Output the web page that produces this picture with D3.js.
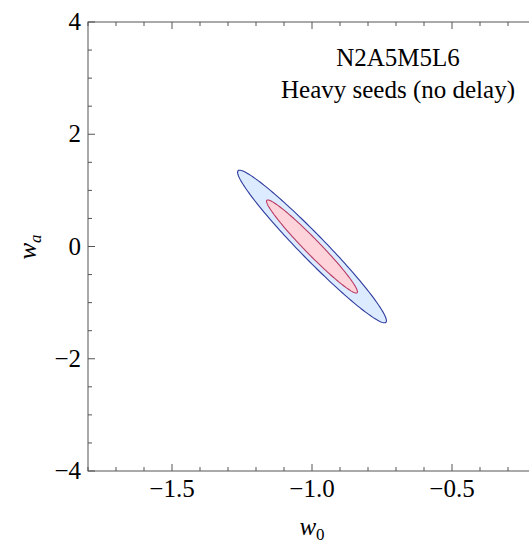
<!DOCTYPE html>
<html>
<head>
<meta charset="utf-8">
<script src="https://cdn.jsdelivr.net/npm/d3@7"></script>
<style>
    body { margin: 0; background: #fff; }
    #chart { position: relative; width: 529px; height: 543px; overflow: hidden; }
    #chart svg { position: absolute; left: 0; top: 0; }
    .lab { position: absolute; font-family: "Liberation Serif", "Times New Roman", serif; font-size: 25px;
           line-height: 25px; white-space: nowrap; color: #000; }
    .lab i { font-style: italic; }
    .lab sub { font-size: 17px; vertical-align: -5px; line-height: 0; }
</style>
</head>
<body>
<div id="chart"></div>
<script>
// Fiducial point and 1-sigma marginal errors
var w0_fid = -1.0;
var wa_fid = 0.0;
var sigma_w0 = 0.107;
var sigma_wa = 0.547;
var corr = -0.973;

// delta chi^2 for 1 and 2 sigma (2 parameters), drawn outer first
var contour_levels = [6.17, 2.30];
var contour_fills = ["#dcebff", "#ffd3da"];
var contour_strokes = ["#2e3c9e", "#b83a62"];

var x_major = [-1.5, -1.0, -0.5];
var x_minor = [-1.8, -1.7, -1.6, -1.4, -1.3, -1.2, -1.1, -0.9, -0.8, -0.7, -0.6, -0.4, -0.3, -0.2];
var y_major = [-4, -2, 0, 2, 4];
var y_minor = [-3.5, -3, -2.5, -1.5, -1, -0.5, 0.5, 1, 1.5, 2.5, 3, 3.5];

var title_lines = ["N2A5M5L6", "Heavy seeds (no delay)"];

var margin = {top: 22, left: 88},
    width = 448,
    height = 449;

var chart = d3.select("#chart");
var svg = chart.append("svg")
    .attr("width", 529)
    .attr("height", 543);

var x = d3.scaleLinear().domain([-1.8, -0.2]).range([margin.left, margin.left + width]);
var y = d3.scaleLinear().domain([-4, 4]).range([margin.top + height, margin.top]);

// contours
var line = d3.line()
    .x(function(d) { return x(d[0]); })
    .y(function(d) { return y(d[1]); })
    .curve(d3.curveLinearClosed);

contour_levels.forEach(function(level, i) {
    var k = Math.sqrt(level);
    var pts = d3.range(0, 360, 2).map(function(deg) {
        var t = deg * Math.PI / 180;
        return [w0_fid + k * sigma_w0 * Math.cos(t),
                wa_fid + k * sigma_wa * (corr * Math.cos(t) + Math.sqrt(1 - corr * corr) * Math.sin(t))];
    });
    svg.append("path")
        .attr("d", line(pts))
        .attr("fill", contour_fills[i])
        .attr("stroke", contour_strokes[i])
        .attr("stroke-width", 1.1);
});

// frame and ticks (all ticks point inward)
svg.append("rect")
    .attr("x", margin.left).attr("y", margin.top)
    .attr("width", width).attr("height", height)
    .attr("fill", "none").attr("stroke", "#555");

function tick(x1, y1, x2, y2) {
    svg.append("line").attr("x1", x1).attr("y1", y1).attr("x2", x2).attr("y2", y2)
        .attr("stroke", "#555").attr("stroke-width", 1);
}
function xticks(vals, len) {
    vals.forEach(function(v) {
        tick(x(v), margin.top + height, x(v), margin.top + height - len);
        tick(x(v), margin.top, x(v), margin.top + len);
    });
}
function yticks(vals, len) {
    vals.forEach(function(v) {
        tick(margin.left, y(v), margin.left + len, y(v));
        tick(margin.left + width, y(v), margin.left + width - len, y(v));
    });
}
xticks(x_major, 7);
xticks(x_minor, 4);
yticks(y_major, 7);
yticks(y_minor, 4);

// text as html labels; baseline sits ~21px below the box top at 25px
var fx = d3.format(".1f"), fy = d3.format("d");

chart.selectAll("div.xlab")
    .data(x_major)
    .enter().append("div")
    .attr("class", "lab xlab")
    .style("left", function(d) { return x(d) + "px"; })
    .style("top", (margin.top + height + 26 - 21) + "px")
    .style("transform", "translateX(-50%)")
    .text(function(d) { return fx(d); });

chart.selectAll("div.ylab")
    .data(y_major)
    .enter().append("div")
    .attr("class", "lab ylab")
    .style("right", (529 - (margin.left - 7)) + "px")
    .style("top", function(d) { return (y(d) + 8 - 21) + "px"; })
    .text(function(d) { return fy(d); });

chart.append("div")
    .attr("class", "lab")
    .style("left", "312px")
    .style("top", (535 - 21) + "px")
    .style("transform", "translateX(-50%)")
    .html("<i>w</i><sub>0</sub>");

chart.append("div")
    .attr("class", "lab")
    .style("left", "36px")
    .style("top", (margin.top + height / 2) + "px")
    .style("transform-origin", "0 0")
    .style("transform", "rotate(-90deg) translate(-50%, -21px)")
    .html("<i>w</i><sub><i>a</i></sub>");

chart.selectAll("div.title")
    .data(title_lines)
    .enter().append("div")
    .attr("class", "lab title")
    .style("left", "398px")
    .style("top", function(d, i) { return (66 + i * 32 - 21) + "px"; })
    .style("transform", "translateX(-50%)")
    .text(function(d) { return d; });
</script>
</body>
</html>
